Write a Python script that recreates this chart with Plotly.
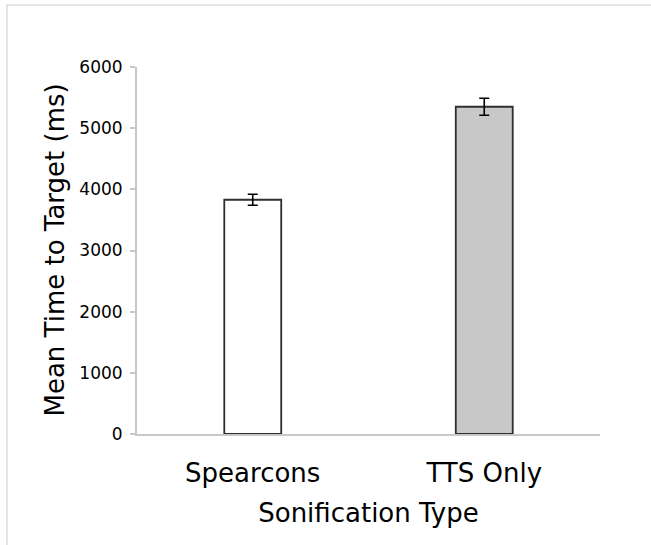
import plotly.graph_objects as go

categories = ["Spearcons", "TTS Only"]
mean_ms = [3830, 5350]
err_ms = [90, 140]
bar_colors = ["#ffffff", "#c8c8c8"]

W, H = 651, 545
L, R, T, B = 137, 51, 67, 111
pw, ph = W - L - R, H - T - B

def px_x(x):
    return (x - L) / pw

def px_y(y):
    return (H - B - y) / ph

font = "DejaVu Sans, Verdana, sans-serif"

fig = go.Figure()
fig.add_trace(go.Bar(
    x=categories, y=mean_ms,
    marker=dict(color=bar_colors, line=dict(color="#2e2e2e", width=1.8)),
    error_y=dict(type="data", array=err_ms, visible=True, color="#000000",
                 thickness=1.6, width=5),
    width=0.246,
))

fig.update_layout(
    width=W, height=H,
    margin=dict(l=L, r=R, t=T, b=B, pad=0),
    paper_bgcolor="#ffffff", plot_bgcolor="#ffffff",
    showlegend=False,
    font=dict(family=font, color="#000000"),
    xaxis=dict(
        showline=True, linecolor="#c8c8c8", linewidth=2,
        ticks="", showgrid=False, zeroline=False,
        tickfont=dict(size=26, family=font, color="#000000"),
        ticklabelstandoff=15,
        title=dict(text="Sonification Type", font=dict(size=26, family=font, color="#000000"),
                   standoff=17),
        fixedrange=True,
    ),
    yaxis=dict(
        range=[0, 6000], dtick=1000, tick0=0,
        showline=True, linecolor="#c8c8c8", linewidth=2,
        ticks="outside", ticklen=5, tickcolor="#c8c8c8", tickwidth=1.5,
        showgrid=False, zeroline=False,
        tickfont=dict(size=17, family=font, color="#000000"),
        ticklabelstandoff=4,
        fixedrange=True,
    ),
    annotations=[dict(
        text="Mean Time to Target (ms)", textangle=-90,
        xref="paper", yref="paper", x=px_x(54), y=0.5,
        xanchor="center", yanchor="middle", showarrow=False,
        font=dict(size=26, family=font, color="#000000"),
    )],
    shapes=[
        dict(type="line", xref="paper", yref="paper",
             x0=px_x(6), x1=px_x(651), y0=px_y(5), y1=px_y(5),
             line=dict(color="#dcdcdc", width=1.5)),
        dict(type="line", xref="paper", yref="paper",
             x0=px_x(7), x1=px_x(7), y0=px_y(5), y1=px_y(545),
             line=dict(color="#dcdcdc", width=1.5)),
    ],
)

fig.write_html(
    "out.html",
    config={"displayModeBar": False},
    post_script="document.body.style.margin='0';document.body.style.overflow='hidden';",
)
